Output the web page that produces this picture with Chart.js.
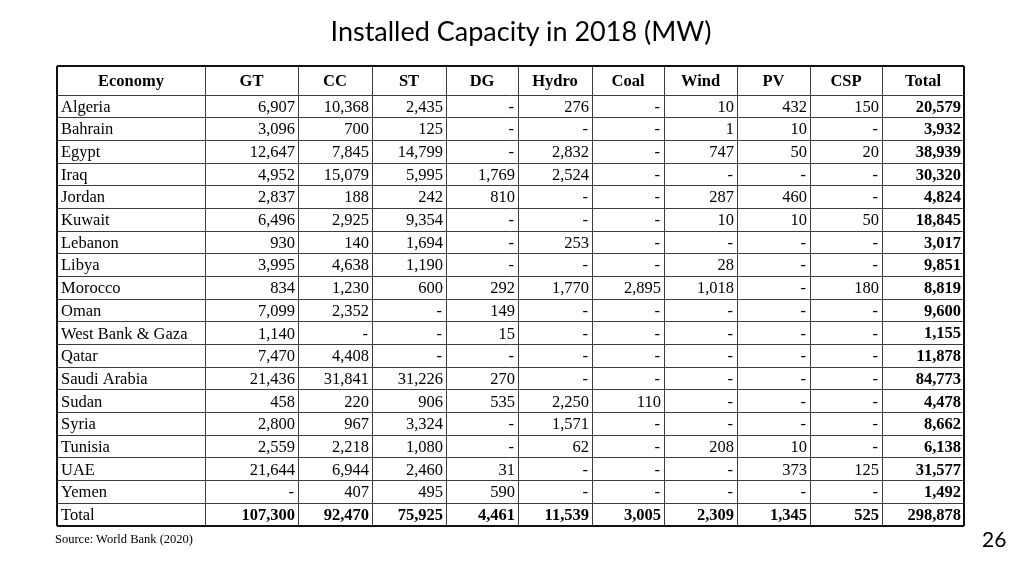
<!DOCTYPE html>
<html>
<head>
<meta charset="utf-8">
<script src="https://cdn.jsdelivr.net/npm/chart.js@4/dist/chart.umd.min.js"></script>
<style>
  html, body { margin: 0; padding: 0; background: #fff; }
  #wrap { position: relative; width: 1024px; height: 576px; overflow: hidden; }
  #chart { position: absolute; left: 0; top: 0; }
  #title { position: absolute; left: 521px; top: 14px; transform: translateX(-50%); white-space: nowrap;
           font-family: Lato, "Open Sans", sans-serif; font-size: 27px; color: #000; }
  #source { position: absolute; left: 55px; top: 532px; font-family: "Liberation Serif", serif; font-size: 12.5px; color: #000; }
  #page { position: absolute; left: 982px; top: 526px; font-family: Lato, sans-serif; font-size: 21px; color: #000; }
</style>
</head>
<body>
<div id="wrap">
  <canvas id="chart" width="1024" height="576"></canvas>
  <div id="title">Installed Capacity in 2018 (MW)</div>
  <div id="source">Source: World Bank (2020)</div>
  <div id="page">26</div>
</div>
<script>
// ---- Data ----
const headerLabel = "Economy";
const columns = ["GT", "CC", "ST", "DG", "Hydro", "Coal", "Wind", "PV", "CSP", "Total"];
const economies = ["Algeria", "Bahrain", "Egypt", "Iraq", "Jordan", "Kuwait", "Lebanon", "Libya", "Morocco", "Oman",
  "West Bank & Gaza", "Qatar", "Saudi Arabia", "Sudan", "Syria", "Tunisia", "UAE", "Yemen", "Total"];
const gt    = [6907, 3096, 12647, 4952, 2837, 6496, 930, 3995, 834, 7099, 1140, 7470, 21436, 458, 2800, 2559, 21644, null, 107300];
const cc    = [10368, 700, 7845, 15079, 188, 2925, 140, 4638, 1230, 2352, null, 4408, 31841, 220, 967, 2218, 6944, 407, 92470];
const st    = [2435, 125, 14799, 5995, 242, 9354, 1694, 1190, 600, null, null, null, 31226, 906, 3324, 1080, 2460, 495, 75925];
const dg    = [null, null, null, 1769, 810, null, null, null, 292, 149, 15, null, 270, 535, null, null, 31, 590, 4461];
const hydro = [276, null, 2832, 2524, null, null, 253, null, 1770, null, null, null, null, 2250, 1571, 62, null, null, 11539];
const coal  = [null, null, null, null, null, null, null, null, 2895, null, null, null, null, 110, null, null, null, null, 3005];
const wind  = [10, 1, 747, null, 287, 10, null, 28, 1018, null, null, null, null, null, null, 208, null, null, 2309];
const pv    = [432, 10, 50, null, 460, 10, null, null, null, null, null, null, null, null, null, 10, 373, null, 1345];
const csp   = [150, null, 20, null, null, 50, null, null, 180, null, null, null, null, null, null, null, 125, null, 525];
const total = [20579, 3932, 38939, 30320, 4824, 18845, 3017, 9851, 8819, 9600, 1155, 11878, 84773, 4478, 8662, 6138, 31577, 1492, 298878];

// ---- Layout (not data) ----
const colWidths = [148, 93, 74, 74, 72, 74, 72, 73, 73, 72, 82];
const HEADER_ROWS = 1.28;

const seriesByCol = [gt, cc, st, dg, hydro, coal, wind, pv, csp, total];
const xBounds = [0];
colWidths.forEach(w => xBounds.push(xBounds[xBounds.length - 1] + w));
const yBounds = [-HEADER_ROWS];
for (let i = 0; i <= economies.length; i++) yBounds.push(i);

const fmt = v => (v === null || v === undefined) ? "-" : v.toLocaleString("en-US");

// Build cells
const cells = [];
const allHeaders = [headerLabel].concat(columns);
allHeaders.forEach((h, c) => {
  cells.push({ x: (xBounds[c] + xBounds[c + 1]) / 2, y: -HEADER_ROWS / 2, col: c, row: -1, text: h, kind: "header" });
});
economies.forEach((e, r) => {
  const yc = r + 0.5;
  cells.push({ x: (xBounds[0] + xBounds[1]) / 2, y: yc, col: 0, row: r, text: e, kind: "name" });
  seriesByCol.forEach((arr, i) => {
    const c = i + 1;
    const bold = (r === economies.length - 1) || (i === seriesByCol.length - 1);
    cells.push({ x: (xBounds[c] + xBounds[c + 1]) / 2, y: yc, col: c, row: r, text: fmt(arr[r]), kind: bold ? "bold" : "num" });
  });
});

const FONT = '"Liberation Serif", "Times New Roman", serif';
const FS = 16.5;

const cellText = {
  id: "cellText",
  afterDatasetsDraw(chart) {
    const ctx = chart.ctx;
    const xs = chart.scales.x;
    const meta = chart.getDatasetMeta(0);
    ctx.save();
    ctx.fillStyle = "#000";
    ctx.textBaseline = "middle";
    meta.data.forEach((pt, i) => {
      const d = chart.data.datasets[0].data[i];
      const px = pt.x, py = pt.y + 1;
      if (d.kind === "header") {
        ctx.font = "bold " + FS + "px " + FONT;
        ctx.textAlign = "center";
        ctx.fillText(d.text, px, py);
      } else if (d.kind === "name") {
        ctx.font = FS + "px " + FONT;
        ctx.textAlign = "left";
        ctx.fillText(d.text, xs.getPixelForValue(xBounds[d.col]) + 4, py);
      } else {
        ctx.font = (d.kind === "bold" ? "bold " : "") + FS + "px " + FONT;
        ctx.textAlign = "right";
        const right = xs.getPixelForValue(xBounds[d.col + 1]) - 3;
        ctx.fillText(d.text, d.text === "-" ? right - 1 : right, py);
      }
    });
    ctx.restore();
  }
};

const lineW = (bounds) => (c) => (c.index === 0 || c.index === bounds.length - 1) ? 2 : 1;
const lineC = (bounds) => (c) => (c.index === 0 || c.index === bounds.length - 1) ? "#111" : "#3c3c3c";

new Chart(document.getElementById("chart"), {
  type: "scatter",
  data: { datasets: [{ data: cells, pointRadius: 0, pointHoverRadius: 0 }] },
  options: {
    responsive: false,
    animation: false,
    events: [],
    layout: { padding: { left: 57, right: 60, top: 66, bottom: 50 } },
    plugins: { legend: { display: false }, tooltip: { enabled: false }, title: { display: false } },
    scales: {
      x: {
        type: "linear", min: xBounds[0], max: xBounds[xBounds.length - 1],
        afterBuildTicks: s => { s.ticks = xBounds.map(v => ({ value: v })); },
        afterFit: s => { s.height = 0; },
        ticks: { display: false },
        border: { display: false },
        grid: { drawTicks: false, lineWidth: lineW(xBounds), color: lineC(xBounds) }
      },
      y: {
        type: "linear", reverse: true, min: yBounds[0], max: yBounds[yBounds.length - 1],
        afterBuildTicks: s => { s.ticks = yBounds.map(v => ({ value: v })); },
        afterFit: s => { s.width = 0; },
        ticks: { display: false },
        border: { display: false },
        grid: { drawTicks: false, lineWidth: lineW(yBounds), color: lineC(yBounds) }
      }
    }
  },
  plugins: [cellText]
});
</script>
</body>
</html>
